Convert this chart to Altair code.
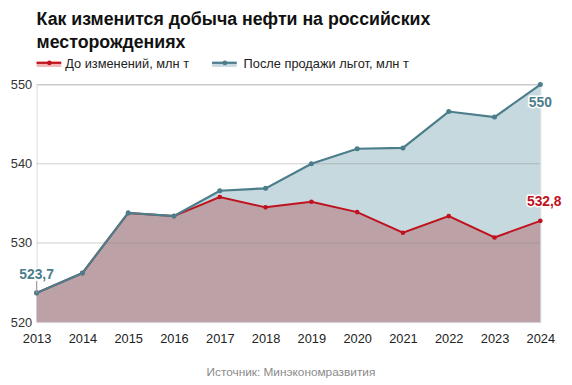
import altair as alt
import pandas as pd

years = [str(y) for y in range(2013, 2025)]
before = [523.7, 526.2, 533.8, 533.4, 535.8, 534.5, 535.2, 533.9, 531.3, 533.4, 530.7, 532.8]
after = [523.7, 526.2, 533.8, 533.4, 536.6, 536.9, 540.0, 541.9, 542.0, 546.6, 545.9, 550.0]
y_ticks = [520, 530, 540, 550]

title_lines = ["Как изменится добыча нефти на российских", "месторождениях"]
legend_labels = ["До изменений, млн т", "После продажи льгот, млн т"]
source_text = "Источник: Минэкономразвития"

RED = "#c0121e"
TEAL = "#4b7d8a"
RED_FILL = "#bca2a6"
TEAL_FILL = "#c6d9df"
FONT = "Liberation Sans"

df = pd.DataFrame({"year": years, "before": before, "after": after})

W, H = 511, 241

xscale = alt.Scale(type="point", padding=0)
yscale = alt.Scale(domain=[520, 550], zero=False, nice=False)

xaxis = alt.Axis(labelAngle=0, ticks=False, domain=False,
                 labelFontSize=13, labelColor="#222", labelFont=FONT,
                 labelPadding=11, grid=False)
yaxis = alt.Axis(values=y_ticks, ticks=False, domain=False,
                 labelFontSize=13, labelColor="#333", labelFont=FONT,
                 labelPadding=5, grid=False)


def X():
    return alt.X("year:O", scale=xscale, axis=xaxis, title=None)


def Y(field):
    return alt.Y(f"{field}:Q", scale=yscale, axis=yaxis, title=None)


base = alt.Chart(df)

area_after = base.mark_area(color=TEAL_FILL, opacity=1).encode(
    x=X(), y=Y("after"), y2=alt.datum(520))
area_before = base.mark_area(color=RED_FILL, opacity=1).encode(
    x=X(), y=Y("before"), y2=alt.datum(520))
grid = alt.Chart(pd.DataFrame({"v": y_ticks[1:]})).mark_rule(
    color="#8a8a8a", strokeWidth=1, opacity=0.42).encode(y=Y("v"))
line_before = base.mark_line(color=RED, strokeWidth=2).encode(x=X(), y=Y("before"))
pts_before = base.mark_circle(color=RED, size=22, opacity=1).encode(x=X(), y=Y("before"))
line_after = base.mark_line(color=TEAL, strokeWidth=2.2).encode(x=X(), y=Y("after"))
pts_after = base.mark_circle(color=TEAL, size=26, opacity=1).encode(x=X(), y=Y("after"))


def fmt(v):
    s = f"{v:.1f}".replace(".", ",")
    return s[:-2] if s.endswith(",0") else s


lab = pd.DataFrame({
    "year": [years[0], years[-1], years[-1]],
    "val": [after[0], after[-1], before[-1]],
    "txt": [fmt(after[0]), fmt(after[-1]), fmt(before[-1])],
    "col": [TEAL, TEAL, RED],
    "dy": [-18, 19, -19],
    "dx": [0, 0, 4],
})

tick = alt.Chart(lab.iloc[[0]]).mark_rule(color="#999999", strokeWidth=1).encode(
    x=X(), y=Y("val"),
    y2=alt.value(H - (after[0] - 520) / 30 * H - 12))

labels = []
for i, r in lab.iterrows():
    d = lab.iloc[[i]]
    halo = alt.Chart(d).mark_text(fontSize=14, fontWeight="bold", font=FONT, dy=int(r.dy),
                                  dx=int(r.dx), stroke="white", strokeWidth=3,
                                  strokeJoin="round", color="white").encode(
        x=X(), y=Y("val"), text="txt:N")
    txt = alt.Chart(d).mark_text(fontSize=14, fontWeight="bold", font=FONT, dy=int(r.dy),
                                 dx=int(r.dx), color=r.col).encode(
        x=X(), y=Y("val"), text="txt:N")
    labels += [halo, txt]

# legend (manual)
one = pd.DataFrame({"k": [0]})
leg = []
for (x0, colr, fill, label, toff) in [(0, RED, "#f2b4b4", legend_labels[0], 29),
                                      (178, TEAL, TEAL_FILL, legend_labels[1], 32)]:
    leg.append(alt.Chart(one).mark_rect(color=fill).encode(
        x=alt.value(x0), x2=alt.value(x0 + 25), y=alt.value(-24), y2=alt.value(-18)))
    leg.append(alt.Chart(one).mark_rule(color=colr, strokeWidth=2).encode(
        x=alt.value(x0), x2=alt.value(x0 + 25), y=alt.value(-22)))
    leg.append(alt.Chart(one).mark_circle(color=colr, size=22, opacity=1).encode(
        x=alt.value(x0 + 13), y=alt.value(-22)))
    leg.append(alt.Chart(one).mark_text(align="left", baseline="middle", fontSize=13,
                                        font=FONT, color="#222").encode(
        x=alt.value(x0 + toff), y=alt.value(-21), text=alt.value(label)))

titles = []
for j, t in enumerate(title_lines):
    titles.append(alt.Chart(one).mark_text(align="left", baseline="alphabetic", fontSize=18,
                                           fontWeight="bold", font=FONT, color="#111").encode(
        x=alt.value(0), y=alt.value(-60 + 23 * j), text=alt.value(t)))

src = alt.Chart(one).mark_text(align="center", baseline="middle", fontSize=12,
                               font=FONT, color="#8a8a8a").encode(
    x=alt.value(258), y=alt.value(292), text=alt.value(source_text))

chart = alt.layer(area_after, area_before, grid, line_before, pts_before,
                  line_after, pts_after, tick, *labels, *leg, *titles, src).properties(
    width=W, height=H,
    padding={"left": 29, "top": 75, "right": 24, "bottom": 60},
    autosize=alt.AutoSizeParams(type="none"),
).configure_view(stroke=None).configure(background="white")

chart.save("out.html", embed_options={"renderer": "svg", "actions": False})
